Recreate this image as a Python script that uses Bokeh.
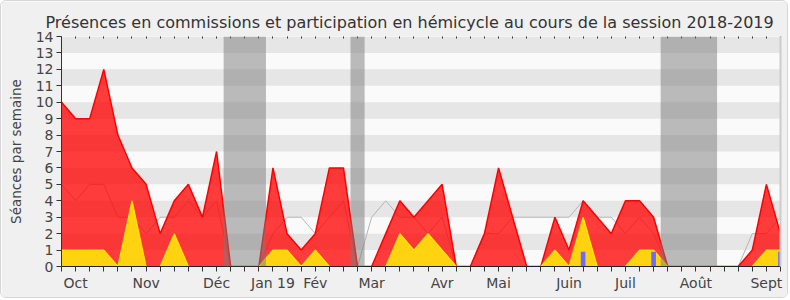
from bokeh.plotting import figure
from bokeh.models import Range1d, FixedTicker, LinearAxis, BoxAnnotation
from bokeh.embed import file_html
from bokeh.resources import INLINE

# ---- data (weekly values, session 2018-2019) ----
weeks = list(range(52))
presences = [10, 9, 9, 12, 8, 6, 5, 2, 4, 5, 3, 7, 0, 0, 0, 6, 2, 1, 2, 6,
             6, 0, 0, 2, 4, 3, 4, 5, 0, 0, 2, 6, 3, 0, 0, 3, 1, 4, 3, 2,
             4, 4, 3, 0, 0, 0, 0, 0, 0, 1, 5, 2]
commission = [1, 1, 1, 1, 0, 4, 0, 0, 2, 0, 0, 0, 0, 0, 0, 1, 1, 0, 1, 0,
              0, 0, 0, 0, 2, 1, 2, 1, 0, 0, 0, 0, 0, 0, 0, 1, 0, 3, 0, 0,
              0, 1, 1, 0, 0, 0, 0, 0, 0, 0, 1, 1]
mediane = [5, 4, 5, 5, 3, 3, 2, 3, 3, 4, 3, 4, 0, 0, 0, 2, 3, 3, 2, 3,
           4, 0, 3, 4, 3, 3, 2, 3, 0, 0, 2, 2, 3, 3, 3, 3, 3, 4, 3, 3,
           2, 3, 2, 0, 0, 0, 0, 0, 0, 2, 2, 3]
questions_weeks = [37, 42, 51]
questions_vals = [0.9, 0.9, 0.9]
vacances_debut = [11.5, 20.5, 42.5]
vacances_fin = [14.5, 21.5, 46.5]
month_weeks = [1, 6, 11, 15, 18, 22, 27, 31, 36, 40, 45, 50]
month_labels = ["Oct", "Nov", "Déc", "Jan 19", "Fév", "Mar", "Avr", "Mai",
                "Juin", "Juil", "Août", "Sept"]
y_ticks = list(range(15))

FONT = "DejaVu Sans"

p = figure(width=788, height=298, output_backend="svg", toolbar_location=None,
           x_range=Range1d(0, 51), y_range=Range1d(0, 14),
           min_border_left=60, min_border_right=9, min_border_top=35,
           min_border_bottom=33)
p.background_fill_color = "#fafafa"
p.border_fill_color = "#f0f0f0"
p.outline_line_color = None
p.styles = {"border": "1px solid #d6d6d6", "border-radius": "6px",
            "overflow": "hidden"}

p.title.text = "Présences en commissions et participation en hémicycle au cours de la session 2018-2019"
p.title.text_font = FONT
p.title.text_font_size = "16px"
p.title.text_font_style = "normal"
p.title.text_color = "#333333"
p.title.align = "left"
p.title.offset = -16

# stripes
p.xgrid.visible = False
p.ygrid.ticker = FixedTicker(ticks=y_ticks)
p.ygrid.grid_line_color = None
p.ygrid.band_fill_color = "#e6e6e6"
p.ygrid.band_fill_alpha = 1.0

# series
p.line(weeks, mediane, line_color="#b4b4b4", line_width=1)
p.varea(x=weeks, y1=0, y2=presences, fill_color="#ff0000", fill_alpha=0.76)
p.line(weeks, presences, line_color="#ff0000", line_width=1.5)
p.varea(x=weeks, y1=0, y2=commission, fill_color="#ffd30f", fill_alpha=1.0)
p.line(weeks, commission, line_color="#ffea00", line_width=1.2)
p.vbar(x=questions_weeks, top=questions_vals, width=0.33, fill_color="#6b6bff",
       line_color=None)

for a, b in zip(vacances_debut, vacances_fin):
    p.add_layout(BoxAnnotation(left=a, right=b, fill_color="#7a7a7a",
                               fill_alpha=0.5, line_color=None))

# axes
xa = p.xaxis[0]
xa.ticker = FixedTicker(ticks=weeks)
overrides = {w: "" for w in weeks}
for w, lab in zip(month_weeks, month_labels):
    overrides[w] = lab
xa.major_label_overrides = overrides
xa.minor_tick_line_color = None
xa.major_tick_out = 5
xa.major_tick_in = 0
xa.axis_line_color = "#222222"
xa.major_tick_line_color = "#333333"
xa.major_label_text_font = FONT
xa.major_label_text_font_size = "14px"
xa.major_label_text_color = "#444444"
xa.major_label_standoff = 3

ya = p.yaxis[0]
ya.ticker = FixedTicker(ticks=y_ticks)
ya.minor_tick_line_color = None
ya.major_tick_out = 5
ya.major_tick_in = 0
ya.axis_line_color = "#333333"
ya.major_tick_line_color = "#333333"
ya.major_label_text_font = FONT
ya.major_label_text_font_size = "14px"
ya.major_label_text_color = "#444444"
ya.major_label_standoff = 3
ya.axis_label = "Séances par semaine"
ya.axis_label_text_font = FONT
ya.axis_label_text_font_size = "13.5px"
ya.axis_label_text_font_style = "normal"
ya.axis_label_text_color = "#444444"
ya.axis_label_standoff = 9

top = LinearAxis(ticker=FixedTicker(ticks=weeks), major_label_text_font_size="0px",
                 axis_line_color=None, major_tick_in=2, major_tick_out=0,
                 major_tick_line_color="#333333", minor_tick_line_color=None)
top.major_label_overrides = {w: "" for w in weeks}
p.add_layout(top, "above")

right = LinearAxis(ticker=FixedTicker(ticks=[]), major_label_text_font_size="0px",
                   axis_line_color="#cccccc", axis_line_width=2,
                   major_tick_line_color=None, minor_tick_line_color=None)
p.add_layout(right, "right")

open("out.html", "w").write(file_html(p, INLINE))
